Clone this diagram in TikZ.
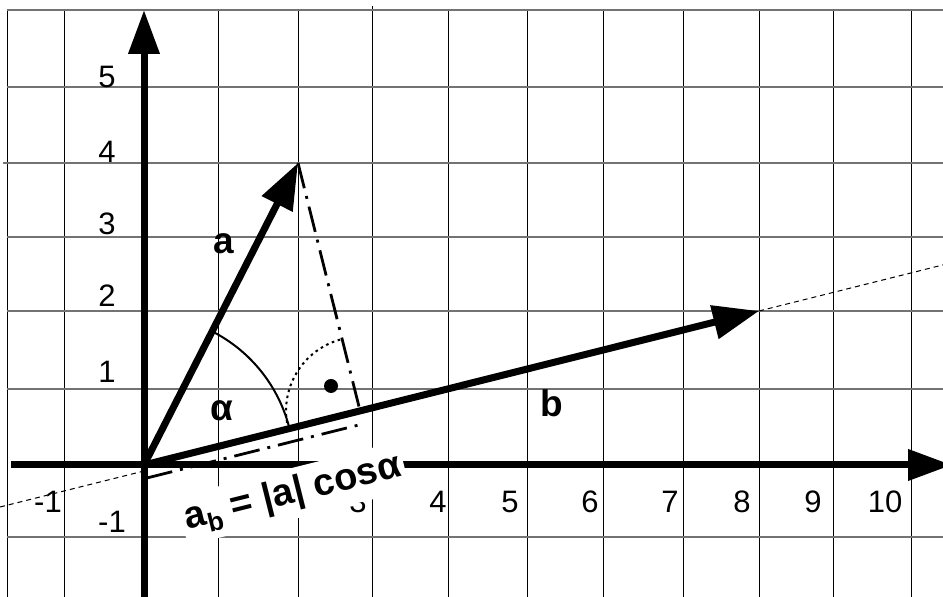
\documentclass[tikz,border=0pt]{standalone}
\usepackage{fontspec}
\setmainfont{Liberation Sans}
\usetikzlibrary{arrows.meta,calc}

\tikzset{
  vline/.style={black, line width=0.5pt},
  hline/.style={black!55, line width=0.7pt},
  axisline/.style={line width=3.5pt, -{Triangle[length=22pt,width=15pt]}},
  vec/.style={line width=3.5pt, -{Triangle[length=23pt,width=16.5pt]}},
  ext/.style={line width=0.5pt, dash pattern=on 2.5pt off 2pt},
  proj/.style={line width=1.4pt, dash pattern=on 13pt off 4pt on 1.5pt off 4pt},
  anglearc/.style={line width=1pt},
  rightarc/.style={line width=1pt, dash pattern=on 1.3pt off 1.8pt},
  numlbl/.style={inner sep=0pt, font=\fontsize{15.5}{18}\selectfont},
  veclbl/.style={inner sep=0pt, font=\bfseries\fontsize{18.5}{21}\selectfont}
}

\begin{document}
\begin{tikzpicture}[x=0.5pt, y=0.5pt]
\clip (0,0) rectangle (943,597);

% Grid
\foreach \x in {7,64,218,298,448,527,603,683,759,833,911}
  \draw[vline] (\x,0) -- (\x,587);
\draw[vline] (372,0) -- (372,591);
\foreach \y in {60,208,286,360,510,587}
  \draw[hline] (7,\y) -- (943,\y);
\draw[hline] (3,434) -- (943,434);

% Points
\coordinate (O) at (144,132);
\coordinate (A) at (298,434);
\coordinate (B) at (759,286);
\coordinate (F) at ($(O)!(A)!(B)$);

% Line through b
\coordinate (Lend) at (0,90);
\coordinate (Lax) at (144,126);
\coordinate (Rend) at ($(O)!1.3!(B)$);
\draw[ext] (Lend) -- (Lax);
\draw[ext] (B) -- (Rend);

% Axes
\coordinate (xL) at (11,132);
\coordinate (xR) at (952,132);
\coordinate (yB) at (144,0);
\coordinate (yT) at (144,587);
\draw[axisline] (xL) -- (xR);
\draw[axisline] (yB) -- (yT);

% Numbers
\foreach \v/\lab [count=\i] in {48/-1,358/3,438/4,510/5,590/6,670/7,742/8,813/9,885/10}
  \node[numlbl] (xl\i) at (\v,95) {\lab};
\foreach \v/\lab [count=\i] in {520/5,445/4,373/3,301/2,225/1}
  \node[numlbl] (yl\i) at (107,\v) {\lab};
\node[numlbl] (ylm) at (112,75) {-1};

% Vectors
\draw[vec] (O) -- (A);
\draw[vec] (O) -- (B);

% Angle
\draw[anglearc] ($(O)+(14.06:150)$) arc (14.06:62.98:150);

% Right angle
\draw[rightarc] ($(F)+(194.06:74)$) arc (194.06:104.06:74);
\fill (331,211) circle (7);

% Projection
\coordinate (Os) at ($(O)+(3,-13)$);
\coordinate (Fs) at ($(F)+(3,-13)$);
\draw[proj] (A) -- (F);
\draw[proj] (Os) -- (Fs);

% Labels
\node[veclbl] (la) at (224,353) {a};
\node[veclbl] (lb) at (552,194) {b};
\node[veclbl] (lalpha) at (222,186) {α};
\node[veclbl, fill=white, rotate=14.06, minimum width=114.5pt, minimum height=25pt,
  font=\bfseries\fontsize{19}{21}\selectfont]
  (lab) at (293,103.5) {a\raisebox{-4pt}{\fontsize{13}{13}\selectfont b} = |a| cosα};

\end{tikzpicture}
\end{document}
